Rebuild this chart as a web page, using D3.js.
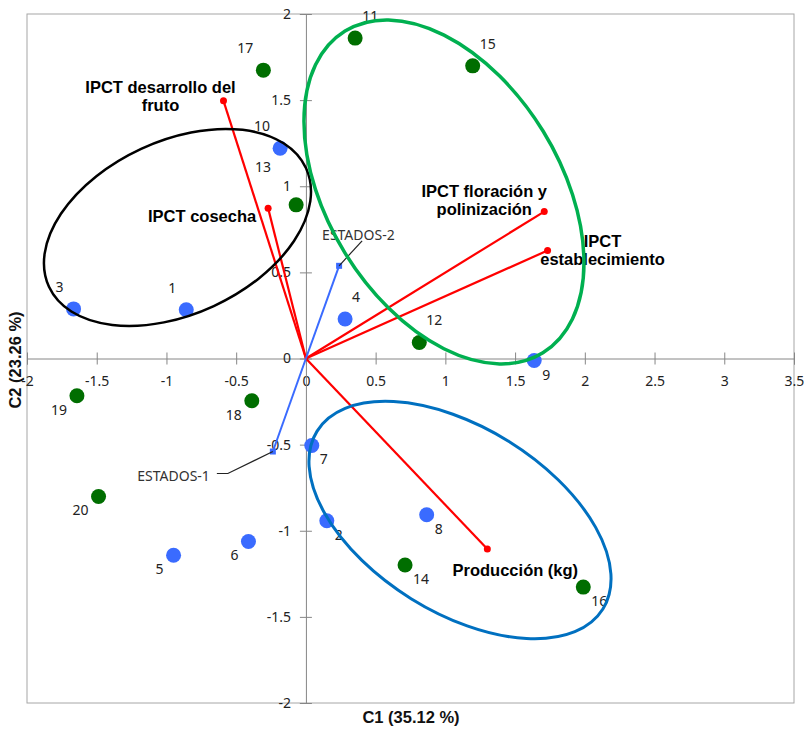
<!DOCTYPE html>
<html lang="es">
<head>
<meta charset="utf-8">
<title>Biplot C1 - C2</title>
<style>
  body { margin: 0; background: #fff; }
  svg { display: block; font-family: "Noto Sans", sans-serif; }
  .tick text { font-size: 14px; fill: #222; font-family: "Noto Sans", sans-serif; }
  .tick line { stroke: #868686; }
  .pt-label { font-size: 14px; fill: #222; }
  .var-label { font-family: "Liberation Sans", Arial, sans-serif; font-weight: bold; font-size: 16.5px; fill: #000; }
  .est-label { font-size: 14px; fill: #333; }
  .axis-title { font-family: "Liberation Sans", Arial, sans-serif; font-weight: bold; font-size: 16.5px; fill: #111; }
</style>
</head>
<body>
<svg></svg>
<script src="https://cdn.jsdelivr.net/npm/d3@7"></script>
<script>
// ---- data ----
var pointIds = [1, 2, 3, 4, 5, 6, 7, 8, 9, 10, 11, 12, 13, 14, 15, 16, 17, 18, 19, 20];
var pointC1 = [-0.858, 0.150, -1.666, 0.281, -0.949, -0.412, 0.042, 0.866, 1.637, -0.185,
               0.353, 0.813, -0.070, 0.711, 1.196, 1.989, -0.305, -0.388, -1.642, -1.487];
var pointC2 = [0.283, -0.942, 0.288, 0.229, -1.142, -1.062, -0.505, -0.907, -0.012, 1.221,
               1.860, 0.093, 0.892, -1.199, 1.699, -1.327, 1.674, -0.245, -0.216, -0.801];
var pointEstado = [1, 1, 1, 1, 1, 1, 1, 1, 1, 1, 2, 2, 2, 2, 2, 2, 2, 2, 2, 2];

var varNames = ["IPCT desarrollo del fruto", "IPCT cosecha", "IPCT floración y polinización",
                "IPCT establecimiento", "Producción (kg)"];
var varC1 = [-0.591, -0.271, 1.709, 1.733, 1.301];
var varC2 = [1.496, 0.873, 0.853, 0.627, -1.106];

var estNames = ["ESTADOS-1", "ESTADOS-2"];
var estC1 = [-0.237, 0.238];
var estC2 = [-0.540, 0.538];

var xTicks = [-2, -1.5, -1, -0.5, 0, 0.5, 1, 1.5, 2, 2.5, 3, 3.5];
var yTicks = [-2, -1.5, -1, -0.5, 0, 0.5, 1, 1.5, 2];

// ---- layout ----
var width = 804, height = 731;
var svg = d3.select("svg").attr("width", width).attr("height", height);

var x = d3.scaleLinear().domain([-2, 3.5]).range([27, 794]);
var y = d3.scaleLinear().domain([-2, 2]).range([703, 14]);

var estadoColor = {1: "#3A6BFF", 2: "#006E00"};

// frame
svg.append("rect")
  .attr("x", x(-2)).attr("y", y(2))
  .attr("width", x(3.5) - x(-2)).attr("height", y(-2) - y(2))
  .attr("fill", "none").attr("stroke", "#A6A6A6").attr("stroke-width", 1);

// axes crossing at 0
var xAxis = svg.append("g")
  .attr("transform", "translate(0," + y(0) + ")")
  .call(d3.axisBottom(x).tickValues(xTicks).tickSize(6).tickPadding(12)
    .tickFormat(function(d) { return String(d); }));
xAxis.select(".domain").attr("stroke", "#868686");
xAxis.selectAll(".tick line").attr("y1", -6);

var yAxis = svg.append("g")
  .attr("transform", "translate(" + x(0) + ",0)")
  .call(d3.axisLeft(y).tickValues(yTicks).tickSize(6).tickPadding(9)
    .tickFormat(function(d) { return String(d); }));
yAxis.select(".domain").attr("stroke", "#868686");
yAxis.selectAll(".tick line").attr("x1", 6);

// variable vectors (red)
var vars = varNames.map(function(n, i) { return {name: n, c1: varC1[i], c2: varC2[i]}; });
svg.append("g").selectAll("line").data(vars).enter().append("line")
  .attr("x1", x(0)).attr("y1", y(0))
  .attr("x2", function(d) { return x(d.c1); })
  .attr("y2", function(d) { return y(d.c2); })
  .attr("stroke", "#FF0000").attr("stroke-width", 2.2);
svg.append("g").selectAll("circle").data(vars).enter().append("circle")
  .attr("cx", function(d) { return x(d.c1); })
  .attr("cy", function(d) { return y(d.c2); })
  .attr("r", 3.5).attr("fill", "#FF0000");

// estados vectors (blue)
var est = estNames.map(function(n, i) { return {name: n, c1: estC1[i], c2: estC2[i]}; });
svg.append("g").selectAll("line").data(est).enter().append("line")
  .attr("x1", x(0)).attr("y1", y(0))
  .attr("x2", function(d) { return x(d.c1); })
  .attr("y2", function(d) { return y(d.c2); })
  .attr("stroke", "#3A6BFF").attr("stroke-width", 2);
svg.append("g").selectAll("rect").data(est).enter().append("rect")
  .attr("x", function(d) { return x(d.c1) - 3; })
  .attr("y", function(d) { return y(d.c2) - 3; })
  .attr("width", 6).attr("height", 6).attr("fill", "#3A6BFF");

// leader lines + labels for estados (offsets from the tip, px)
var estLayout = {
  "ESTADOS-1": {path: [[0, 0], [-45, 22], [-56, 22]], tx: -63, ty: 29, anchor: "end"},
  "ESTADOS-2": {path: [[0, 0], [23, -25]], tx: -17, ty: -26, anchor: "start"}
};
est.forEach(function(d) {
  var L = estLayout[d.name], px = x(d.c1), py = y(d.c2);
  svg.append("path")
    .attr("d", d3.line()(L.path.map(function(p) { return [px + p[0], py + p[1]]; })))
    .attr("fill", "none").attr("stroke", "#222").attr("stroke-width", 1.2);
  svg.append("text").attr("class", "est-label")
    .attr("x", px + L.tx).attr("y", py + L.ty)
    .attr("text-anchor", L.anchor).text(d.name);
});

// observations
var pts = pointIds.map(function(id, i) {
  return {id: id, c1: pointC1[i], c2: pointC2[i], estado: pointEstado[i]};
});
svg.append("g").selectAll("circle").data(pts).enter().append("circle")
  .attr("cx", function(d) { return x(d.c1); })
  .attr("cy", function(d) { return y(d.c2); })
  .attr("r", 7.5)
  .attr("fill", function(d) { return estadoColor[d.estado]; });

// point label placement
var place = {
  ul: {dx: -10, dy: -17, anchor: "end"},
  ur: {dx: 7, dy: -17, anchor: "start"},
  lr: {dx: 8, dy: 19, anchor: "start"},
  ll: {dx: -10, dy: 19, anchor: "end"},
  far: {dx: -25, dy: -33, anchor: "end"}
};
var labelPlace = {1: "ul", 2: "lr", 3: "ul", 4: "ur", 5: "ll", 6: "ll", 7: "lr", 8: "lr", 9: "lr", 10: "ul",
                  11: "ur", 12: "ur", 13: "far", 14: "lr", 15: "ur", 16: "lr", 17: "ul", 18: "ll", 19: "ll", 20: "ll"};
svg.append("g").selectAll("text").data(pts).enter().append("text")
  .attr("class", "pt-label")
  .attr("x", function(d) { return x(d.c1) + place[labelPlace[d.id]].dx; })
  .attr("y", function(d) { return y(d.c2) + place[labelPlace[d.id]].dy; })
  .attr("text-anchor", function(d) { return place[labelPlace[d.id]].anchor; })
  .text(function(d) { return d.id; });

// variable labels (bold), offsets from the tip in px
var varLayout = {
  "IPCT desarrollo del fruto": {lines: ["IPCT desarrollo del", "fruto"], dx: -63, dy: -8},
  "IPCT cosecha": {lines: ["IPCT cosecha"], dx: -66, dy: 14},
  "IPCT floración y polinización": {lines: ["IPCT floración y", "polinización"], dx: -60, dy: -15},
  "IPCT establecimiento": {lines: ["IPCT", "establecimiento"], dx: 55, dy: -3},
  "Producción (kg)": {lines: ["Producción (kg)"], dx: 28, dy: 27}
};
vars.forEach(function(d) {
  var L = varLayout[d.name];
  var t = svg.append("text").attr("class", "var-label").attr("text-anchor", "middle")
    .attr("x", x(d.c1) + L.dx).attr("y", y(d.c2) + L.dy);
  L.lines.forEach(function(s, i) {
    t.append("tspan").attr("x", x(d.c1) + L.dx).attr("dy", i === 0 ? 0 : 18).text(s);
  });
});

// group ellipses (centre in data units, radii in C1 units, rotation in degrees)
var groups = [
  {cx: -0.921, cy: 0.761, a: 1.015, b: 0.621, rot: -24.8, color: "#000000", w: 2.5},
  {cx: 0.990, cy: 0.967, a: 1.354, b: 0.834, rot: 58.4, color: "#00B050", w: 3.5},
  {cx: 1.105, cy: -0.938, a: 1.207, b: 0.664, rot: 31.9, color: "#0070C0", w: 3}
];
svg.append("g").selectAll("ellipse").data(groups).enter().append("ellipse")
  .attr("cx", function(d) { return x(d.cx); })
  .attr("cy", function(d) { return y(d.cy); })
  .attr("rx", function(d) { return x(d.a) - x(0); })
  .attr("ry", function(d) { return x(d.b) - x(0); })
  .attr("transform", function(d) { return "rotate(" + d.rot + "," + x(d.cx) + "," + y(d.cy) + ")"; })
  .attr("fill", "none")
  .attr("stroke", function(d) { return d.color; })
  .attr("stroke-width", function(d) { return d.w; });

// axis titles
svg.append("text").attr("class", "axis-title")
  .attr("x", 411).attr("y", 723).attr("text-anchor", "middle")
  .text("C1 (35.12 %)");
svg.append("text").attr("class", "axis-title")
  .attr("transform", "translate(21," + 360 + ") rotate(-90)")
  .attr("text-anchor", "middle")
  .text("C2 (23.26 %)");
</script>
</body>
</html>
